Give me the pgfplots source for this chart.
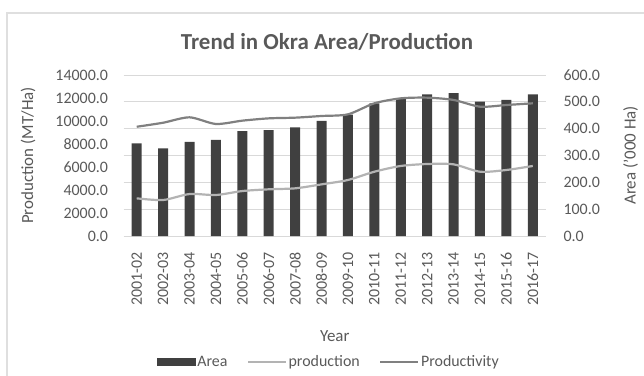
\documentclass[border=0pt]{standalone}
\usepackage{pgfplots}
\pgfplotsset{compat=1.18}
\usepackage{fontspec}
\setmainfont{Carlito}
\definecolor{txt}{HTML}{595959}
\definecolor{gridc}{HTML}{D9D9D9}
\definecolor{bardark}{HTML}{404040}
\definecolor{prodline}{HTML}{B3B3B3}
\definecolor{prodvline}{HTML}{808080}
\begin{document}
\begin{tikzpicture}[x=1bp,y=1bp]
\path[use as bounding box] (0,0) rectangle (644,375);
\draw[gray!25, line width=1.2bp] (7,-5) rectangle (660,362);
\node[font=\fontsize{23}{26}\selectfont\bfseries, text=txt] at (327,333) {Trend in Okra Area/Production};
\begin{axis}[
  at={(123.5bp,139bp)}, anchor=south west, scale only axis,
  width=422.5bp, height=161bp,
  xmin=-0.5, xmax=15.5, ymin=0, ymax=600,
  axis y line*=right, hide x axis,
  axis line style={draw=none}, tick style={draw=none},
  ytick={0,100,...,600},
  ymajorgrids, grid style={gridc, line width=0.9bp},
  scaled y ticks=false,
  /pgf/number format/.cd, fixed, fixed zerofill, precision=1, 1000 sep={}, assume math mode=true,
  /pgfplots/.cd,
  yticklabel style={font=\fontsize{16}{18}\selectfont, text=txt, anchor=west, xshift=14bp},
  ylabel={Area ('000 Ha)},
  ylabel style={font=\fontsize{17}{19}\selectfont, text=txt, at={(axis description cs:1.2,0.5)}, anchor=center},
]
\addplot[ybar, bar width=10bp, fill=bardark, draw=none] coordinates {
(0,345) (1,327) (2,351) (3,358) (4,391) (5,395) (6,405) (7,429)
(8,452) (9,494) (10,513) (11,528) (12,532) (13,501) (14,507) (15,528)};
\end{axis}
\begin{axis}[
  at={(123.5bp,139bp)}, anchor=south west, scale only axis,
  width=422.5bp, height=161bp,
  xmin=-0.5, xmax=15.5, ymin=0, ymax=14000,
  axis y line*=left, axis x line*=bottom,
  axis line style={draw=none}, tick style={draw=none},
  ytick={0,2000,...,14000},
  xtick={0,...,15},
  xticklabels={2001-02,2002-03,2003-04,2004-05,2005-06,2006-07,2007-08,2008-09,2009-10,2010-11,2011-12,2012-13,2013-14,2014-15,2015-16,2016-17},
  xticklabel style={font=\fontsize{16}{18}\selectfont, text=txt, rotate=90, anchor=east},
  xticklabel shift=13bp,
  scaled y ticks=false,
  /pgf/number format/.cd, fixed, fixed zerofill, precision=1, 1000 sep={}, assume math mode=true,
  /pgfplots/.cd,
  yticklabel style={font=\fontsize{16}{18}\selectfont, text=txt, anchor=east, xshift=-12bp},
  ylabel={Production (MT/Ha)},
  ylabel style={font=\fontsize{17}{19}\selectfont, text=txt, at={(axis description cs:-0.226,0.5)}, anchor=center},
  xlabel={Year},
  xlabel style={font=\fontsize{17}{19}\selectfont, text=txt, at={(axis description cs:0.5,-0.621)}, anchor=center},
  legend columns=3,
  legend style={at={(axis description cs:0.486,-0.781)}, anchor=center, draw=none, fill=none,
    font=\fontsize{16}{18}\selectfont, text=txt,
    nodes={inner sep=1.5bp},
    /tikz/every even column/.append style={column sep=18bp}},
]
\addlegendimage{legend image code/.code={\fill[bardark] (0bp,-3.5bp) rectangle (38bp,3.5bp);}}
\addlegendentry{Area}
\addplot[prodline, line width=2.2bp, smooth, tension=0.45, legend image code/.code={\draw[prodline, line width=2.2bp] (0bp,0bp) -- (38bp,0bp);}] coordinates {
(0,3275) (1,3130) (2,3650) (3,3565) (4,3910) (5,4060) (6,4145) (7,4490)
(8,4870) (9,5590) (10,6090) (11,6260) (12,6230) (13,5590) (14,5740) (15,6090)};
\addlegendentry{production}
\addplot[prodvline, line width=2.2bp, smooth, tension=0.45, legend image code/.code={\draw[prodvline, line width=2.2bp] (0bp,0bp) -- (38bp,0bp);}] coordinates {
(0,9500) (1,9850) (2,10320) (3,9740) (4,10030) (5,10230) (6,10290) (7,10435)
(8,10580) (9,11540) (10,11970) (11,12030) (12,11830) (13,11245) (14,11390) (15,11540)};
\addlegendentry{Productivity}
\end{axis}
\end{tikzpicture}
\end{document}
